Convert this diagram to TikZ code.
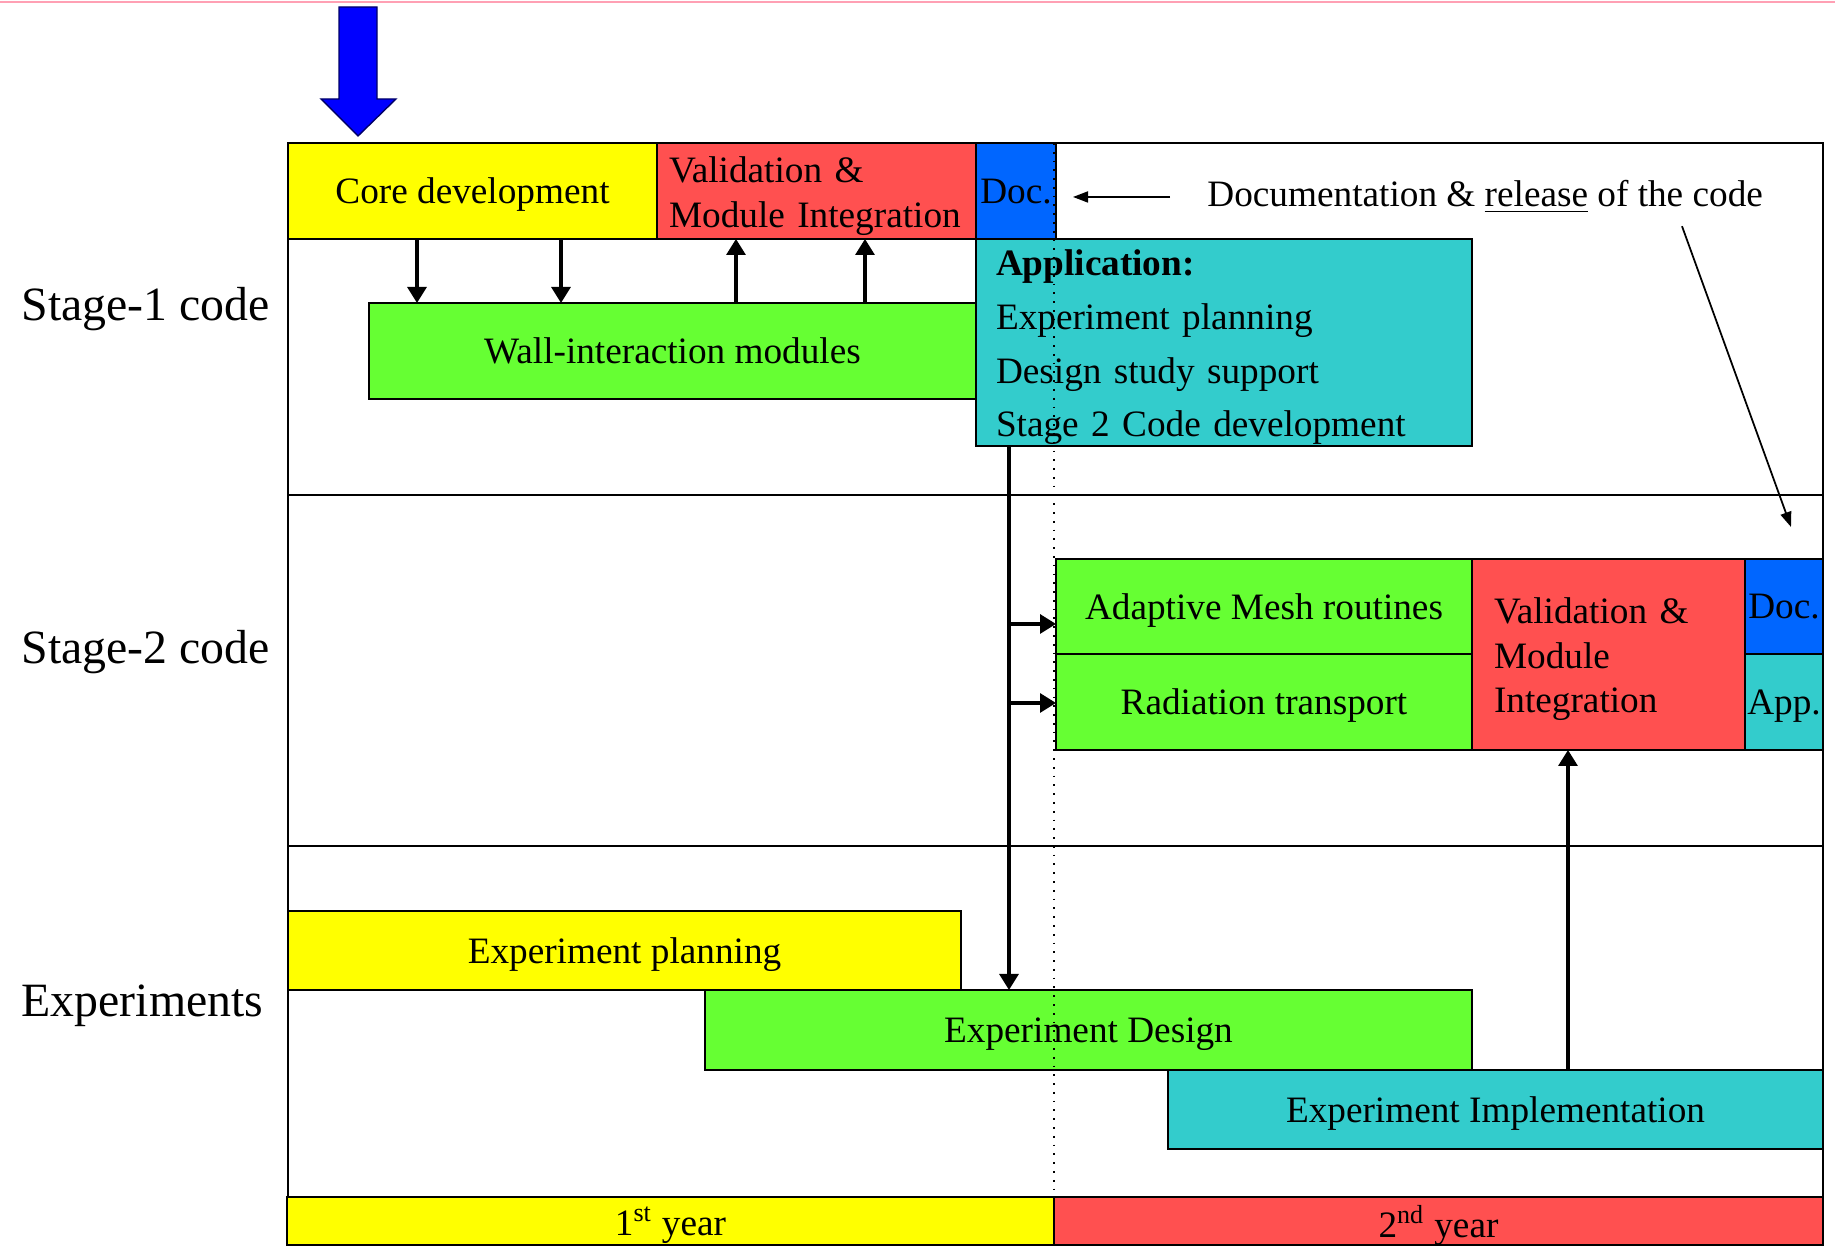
\documentclass[tikz,border=0pt]{standalone}
\usepackage{fontspec}
\setmainfont{Liberation Serif}
\usetikzlibrary{arrows.meta}
\definecolor{cyel}{HTML}{FFFF00}
\definecolor{cred}{HTML}{FF5050}
\definecolor{cblue}{HTML}{0066FF}
\definecolor{cteal}{HTML}{33CCCC}
\definecolor{cgreen}{HTML}{66FF33}
\definecolor{cpink}{HTML}{FFA0B4}
\tikzset{
    task/.style={draw, line width=0.6pt, anchor=north west, inner sep=0pt, outer sep=0pt, text depth=0pt, font=\fontsize{10.6}{12.6}\selectfont},
    arr/.style={-{Triangle[length=1.6mm,width=1.9mm]}, line width=0.9pt},
    thinarr/.style={-{Triangle[length=1.5mm,width=1.1mm]}, line width=0.5pt},
    rowlabel/.style={anchor=west, inner sep=0pt, font=\fontsize{13.6}{16}\selectfont},
    frame/.style={line width=0.6pt},
}

\begin{document}
\begin{tikzpicture}
\useasboundingbox (0,0) rectangle (18.35,12.48);
\draw[cpink, line width=0.6pt] (0,12.46) -- (18.35,12.46);
\draw[frame] (2.88,0.51) rectangle (18.23,11.05);
\draw[frame] (2.88,7.53) -- (18.23,7.53);
\draw[frame] (2.88,4.02) -- (18.23,4.02);
\node[rowlabel] (s1) at (0.21,9.39) {Stage-1 code};
\node[rowlabel] (s2) at (0.21,5.96) {Stage-2 code};
\node[rowlabel] (ex) at (0.21,2.42) {Experiments};
\filldraw[fill=blue, draw=black!60!blue, line width=0.4pt] (3.39,12.41) -- (3.77,12.41) -- (3.77,11.49) -- (3.96,11.49)
    -- (3.58,11.12) -- (3.21,11.49) -- (3.39,11.49) -- cycle;
\node[task, fill=cyel, minimum width=3.69cm, minimum height=0.96cm] (core) at (2.88,11.05) {Core development};
\node[task, fill=cred, minimum width=3.19cm, minimum height=0.96cm, text width=2.95cm, inner xsep=1.2mm, align=left, text depth=12pt] (val1) at (core.north east) {Validation \&\\Module Integration};
\node[task, fill=cblue, minimum width=0.80cm, minimum height=0.96cm] (doc1) at (val1.north east) {Doc.};
\node[task, fill=cteal, minimum width=4.96cm, minimum height=2.07cm, text width=4.56cm, inner xsep=2mm, align=left, text depth=45.4pt, font=\fontsize{10.6}{15.3}\selectfont] (app1) at (doc1.south west) {\textbf{Application:}\\Experiment planning\\Design study support\\Stage 2 Code development};
\node[task, fill=cgreen, minimum width=6.07cm, minimum height=0.96cm] (wall) at (3.69,9.45) {Wall-interaction modules};
\node[anchor=west, font=\fontsize{10.6}{12.6}\selectfont] (note) at (11.95,10.51) {Documentation \& \underline{release} of the code};
\node[task, fill=cgreen, minimum width=4.16cm, minimum height=0.95cm] (mesh) at (10.56,6.89) {Adaptive Mesh routines};
\node[task, fill=cgreen, minimum width=4.16cm, minimum height=0.96cm] (rad) at (mesh.south west) {Radiation transport};
\node[task, fill=cred, minimum width=2.73cm, minimum height=1.91cm, text width=2.29cm, inner xsep=2.2mm, align=left, text depth=24.7pt] (val2) at (mesh.north east) {Validation \&\\Module\\Integration};
\node[task, fill=cblue, minimum width=0.78cm, minimum height=0.95cm] (doc2) at (val2.north east) {Doc.};
\node[task, fill=cteal, minimum width=0.78cm, minimum height=0.96cm] (app2) at (doc2.south west) {App.};
\node[task, fill=cyel, minimum width=6.73cm, minimum height=0.79cm] (plan) at (2.88,3.37) {Experiment planning};
\node[task, fill=cgreen, minimum width=7.67cm, minimum height=0.80cm] (design) at (7.05,2.58) {Experiment Design};
\node[task, fill=cteal, minimum width=6.55cm, minimum height=0.79cm] (impl) at (11.68,1.78) {Experiment Implementation};
\node[task, fill=cyel, minimum width=7.67cm, minimum height=0.48cm] (year1) at (2.87,0.51) {1\textsuperscript{st} year};
\node[task, fill=cred, minimum width=7.69cm, minimum height=0.48cm] (year2) at (year1.north east) {2\textsuperscript{nd} year};
\coordinate (d1) at (4.17,0);
\coordinate (d2) at (5.61,0);
\coordinate (u1) at (7.36,0);
\coordinate (u2) at (8.65,0);
\coordinate (v) at (10.09,0);
\coordinate (b1) at (0,6.24);
\coordinate (b2) at (0,5.45);
\coordinate (u) at (15.68,0);
\coordinate (p) at (10.73,0);
\coordinate (s) at (16.82,0);
\coordinate (tip) at (17.91,7.21);
\draw[arr] (core.south -| d1) -- (wall.north -| d1);
\draw[arr] (core.south -| d2) -- (wall.north -| d2);
\draw[arr] (wall.north -| u1) -- (val1.south -| u1);
\draw[arr] (wall.north -| u2) -- (val1.south -| u2);
\draw[arr] (app1.south -| v) -- (design.north -| v);
\draw[arr] (v |- b1) -- (mesh.west |- b1);
\draw[arr] (v |- b2) -- (rad.west |- b2);
\draw[arr] (impl.north -| u) -- (val2.south -| u);
\draw[thinarr] ([xshift=-2.5mm]note.west) -- (p |- note.west);
\draw[thinarr] (note.south -| s) -- (tip);
\draw[dotted, line width=0.5pt] (year1.north east |- core.north) -- (year1.north east);
\end{tikzpicture}
\end{document}
